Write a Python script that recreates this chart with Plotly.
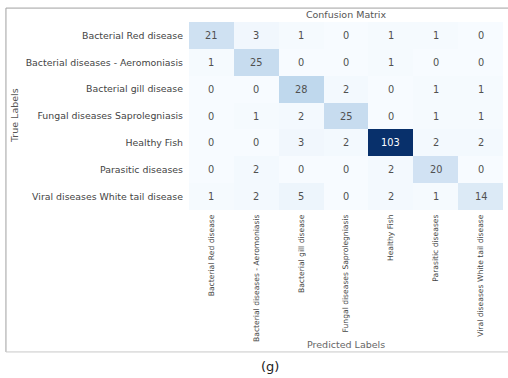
import plotly.graph_objects as go

# Class names (rows = true, columns = predicted)
classes = [
    "Bacterial Red disease",
    "Bacterial diseases - Aeromoniasis",
    "Bacterial gill disease",
    "Fungal diseases Saprolegniasis",
    "Healthy Fish",
    "Parasitic diseases",
    "Viral diseases White tail disease",
]

# Confusion matrix counts, one list per true class
row_bacterial_red = [21, 3, 1, 0, 1, 1, 0]
row_aeromoniasis = [1, 25, 0, 0, 1, 0, 0]
row_gill = [0, 0, 28, 2, 0, 1, 1]
row_saprolegniasis = [0, 1, 2, 25, 0, 1, 1]
row_healthy = [0, 0, 3, 2, 103, 2, 2]
row_parasitic = [0, 2, 0, 0, 2, 20, 0]
row_white_tail = [1, 2, 5, 0, 2, 1, 14]

matrix = [
    row_bacterial_red,
    row_aeromoniasis,
    row_gill,
    row_saprolegniasis,
    row_healthy,
    row_parasitic,
    row_white_tail,
]

# Matplotlib-style "Blues" colour map
blues = [
    [0.0, "#f7fbff"], [0.125, "#deebf7"], [0.25, "#c6dbef"], [0.375, "#9ecae1"],
    [0.5, "#6baed6"], [0.625, "#4292c6"], [0.75, "#2171b5"], [0.875, "#08519c"],
    [1.0, "#08306b"],
]

FONT = "DejaVu Sans, Verdana, sans-serif"
vmax = max(max(r) for r in matrix)

fig = go.Figure(
    go.Heatmap(
        z=matrix,
        x=classes,
        y=classes,
        colorscale=blues,
        zmin=0,
        zmax=vmax,
        showscale=False,
        hoverinfo="skip",
    )
)

# Cell value labels, white on dark cells
annotations = []
for i, row in enumerate(matrix):
    for j, v in enumerate(row):
        annotations.append(dict(
            x=classes[j], y=classes[i], text=str(v), showarrow=False,
            font=dict(family=FONT, size=9.8,
                      color="#ffffff" if v > vmax * 0.6 else "#505050"),
        ))

# Axis titles and caption
annotations += [
    dict(xref="paper", yref="paper", x=0.5, y=-0.718, xanchor="center",
         yanchor="middle", text="Predicted Labels", showarrow=False,
         font=dict(family=FONT, size=9.5, color="#666666")),
    dict(xref="paper", yref="paper", x=-0.557, y=0.5, xanchor="center",
         yanchor="middle", text="True Labels", textangle=-90, showarrow=False,
         font=dict(family=FONT, size=9.5, color="#555555")),
    dict(xref="paper", yref="paper", x=0.258, y=-0.83, xanchor="center",
         yanchor="middle", text="(g)", showarrow=False,
         font=dict(family=FONT, size=13, color="#222222")),
]

# Light grey frame around the figure panel
frame = dict(color="#a0a0a0", width=1)
shapes = [
    dict(type="line", xref="paper", yref="paper", x0=-0.583, x1=-0.583,
         y0=-0.755, y1=1.074, line=frame),
    dict(type="line", xref="paper", yref="paper", x0=-0.583, x1=1.05,
         y0=1.074, y1=1.074, line=frame),
    dict(type="line", xref="paper", yref="paper", x0=-0.583, x1=1.05,
         y0=-0.755, y1=-0.755, line=dict(color="#c8c8c8", width=1)),
]

fig.update_layout(
    width=508,
    height=378,
    margin=dict(l=189, r=5, t=22, b=168),
    paper_bgcolor="white",
    plot_bgcolor="white",
    title=dict(text="Confusion Matrix", x=(189 + 503) / 2 / 508, xanchor="center",
               y=1 - 15 / 378, yanchor="middle",
               font=dict(family=FONT, size=9.5, color="#555555")),
    annotations=annotations,
    shapes=shapes,
    xaxis=dict(
        tickangle=-90, ticks="", showgrid=False, zeroline=False, showline=False,
        ticklabelstandoff=2,
        tickfont=dict(family=FONT, size=7.6, color="#444444"),
    ),
    yaxis=dict(
        autorange="reversed", ticks="", showgrid=False, zeroline=False,
        showline=False, ticklabelstandoff=5,
        tickfont=dict(family=FONT, size=9.4, color="#444444"),
    ),
)

fig.write_html("out.html")
